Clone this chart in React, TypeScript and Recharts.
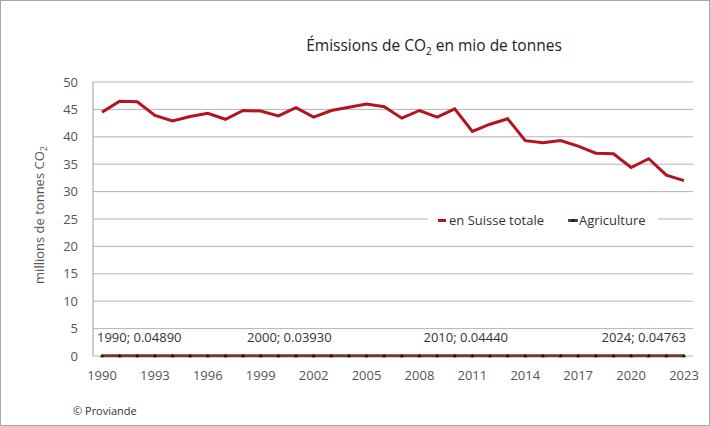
import React from "react";
import {
  LineChart,
  Line,
  XAxis,
  YAxis,
  CartesianGrid,
  LabelList,
} from "recharts";

const FONT = "'Open Sans', 'Noto Sans', sans-serif";
const RED = "#b3141f";
const BROWN = "#6e3b2c";

const years = [
  1990, 1991, 1992, 1993, 1994, 1995, 1996, 1997, 1998, 1999,
  2000, 2001, 2002, 2003, 2004, 2005, 2006, 2007, 2008, 2009,
  2010, 2011, 2012, 2013, 2014, 2015, 2016, 2017, 2018, 2019,
  2020, 2021, 2022, 2023,
];

// total CO2 emissions, millions of tonnes
const suisseTotale = [
  44.5, 46.5, 46.4, 43.9, 42.9, 43.7, 44.3, 43.2, 44.8, 44.7,
  43.8, 45.3, 43.6, 44.8, 45.4, 46.0, 45.5, 43.4, 44.8, 43.6,
  45.1, 41.0, 42.3, 43.3, 39.3, 38.9, 39.3, 38.3, 37.0, 36.9,
  34.4, 36.0, 33.0, 32.0,
];

// agriculture share, millions of tonnes
const agriculture = [
  0.0489, 0.0472, 0.0465, 0.0451, 0.0443, 0.0436, 0.0428, 0.0417, 0.0409, 0.0401,
  0.0393, 0.0398, 0.0404, 0.0412, 0.0419, 0.0425, 0.0431, 0.0436, 0.0440, 0.0442,
  0.0444, 0.0449, 0.0453, 0.0456, 0.0459, 0.0461, 0.0464, 0.0467, 0.0469, 0.0471,
  0.0472, 0.0474, 0.0475, 0.04763,
];

const pointLabels = ["1990; 0.04890", "2000; 0.03930", "2010; 0.04440", "2024; 0.04763"];
const labelledYears = [1990, 2000, 2010, 2023];

const yTicks = [0, 5, 10, 15, 20, 25, 30, 35, 40, 45, 50];

const data = years.map((year, i) => {
  const k = labelledYears.indexOf(year);
  return {
    year,
    total: suisseTotale[i],
    agri: agriculture[i],
    note: k >= 0 ? pointLabels[k] : "",
  };
});

const AgriDot = (props: any) => {
  const { cx, cy } = props;
  if (cx == null || cy == null) return null;
  return <path d={`M${cx - 2},${cy + 1.5} L${cx + 2},${cy + 1.5} L${cx},${cy - 2} Z`} fill="#111" />;
};

const NoteLabel = (props: any) => {
  const { x, y, value, index } = props;
  if (!value) return null;
  let anchor: "start" | "middle" | "end" = "middle";
  let tx = x + 11;
  if (index === 0) {
    anchor = "start";
    tx = x - 5;
  } else if (index === years.length - 1) {
    anchor = "end";
    tx = x + 2;
  }
  return (
    <text x={tx} y={y - 14} textAnchor={anchor} fontSize={13} fill="#333" fontFamily={FONT}>
      {value}
    </text>
  );
};

const LegendBox = () => (
  <div
    style={{
      position: "absolute",
      left: 428,
      top: 211,
      display: "flex",
      alignItems: "center",
      background: "#fff",
      fontFamily: FONT,
      fontSize: 13,
      color: "#333",
      padding: "0 12px 0 10px",
      height: 18,
    }}
  >
    <span style={{ display: "inline-block", width: 8, height: 3, background: RED, marginRight: 3 }} />
    <span style={{ marginRight: 24 }}>en Suisse totale</span>
    <span
      style={{ display: "inline-block", width: 10, height: 3, background: BROWN, marginRight: 1, position: "relative" }}
    >
      <span style={{ position: "absolute", left: 3, top: 0, width: 4, height: 3, background: "#222" }} />
    </span>
    <span>Agriculture</span>
  </div>
);

export default function App() {
  return (
    <div style={{ position: "relative", width: 710, height: 426, background: "#fff" }}>
      <style>{"body{margin:0}"}</style>
      <LineChart
        width={710}
        height={426}
        data={data}
        margin={{ top: 82, right: 17, bottom: 40, left: 0 }}
      >
        <CartesianGrid vertical={false} stroke="#b4b4b4" strokeWidth={1} />
        <XAxis
          dataKey="year"
          interval={2}
          padding={{ left: 9, right: 9 }}
          axisLine={false}
          tickLine={false}
          tickMargin={9}
          tick={{ fontSize: 13, fill: "#555", fontFamily: FONT }}
        />
        <YAxis
          domain={[0, 50]}
          ticks={yTicks}
          width={93}
          axisLine={{ stroke: "#9a9a9a" }}
          tickLine={false}
          tickMargin={9}
          tick={{ fontSize: 13, fill: "#555", fontFamily: FONT }}
        />
        <YAxis
          yAxisId="frame"
          orientation="right"
          width={0}
          domain={[0, 50]}
          tick={false}
          tickLine={false}
          axisLine={{ stroke: "#9a9a9a" }}
        />
        <Line
          dataKey="total"
          name="en Suisse totale"
          stroke={RED}
          strokeWidth={3}
          dot={false}
          isAnimationActive={false}
        />
        <Line
          dataKey="agri"
          name="Agriculture"
          stroke={BROWN}
          strokeWidth={3}
          dot={<AgriDot />}
          isAnimationActive={false}
        >
          <LabelList dataKey="note" content={<NoteLabel />} />
        </Line>
      </LineChart>
      <LegendBox />
      <svg
        width={710}
        height={426}
        style={{ position: "absolute", left: 0, top: 0, pointerEvents: "none" }}
      >
        <text x={434} y={51} textAnchor="middle" fontSize={15.5} fill="#222" fontFamily={FONT}>
          Émissions de CO<tspan fontSize={10} dy={4}>2</tspan>
          <tspan dy={-4}> en mio de tonnes</tspan>
        </text>
        <text
          transform="translate(44,215) rotate(-90)"
          textAnchor="middle"
          fontSize={13}
          fill="#555"
          fontFamily={FONT}
        >
          millions de tonnes CO<tspan fontSize={9} dy={3}>2</tspan>
        </text>
        <text x={73} y={415} fontSize={11} fill="#333" fontFamily={FONT}>
          © Proviande
        </text>
      </svg>
      <div
        style={{
          position: "absolute",
          inset: 0,
          border: "1px solid #a8a8a8",
          pointerEvents: "none",
        }}
      />
    </div>
  );
}
